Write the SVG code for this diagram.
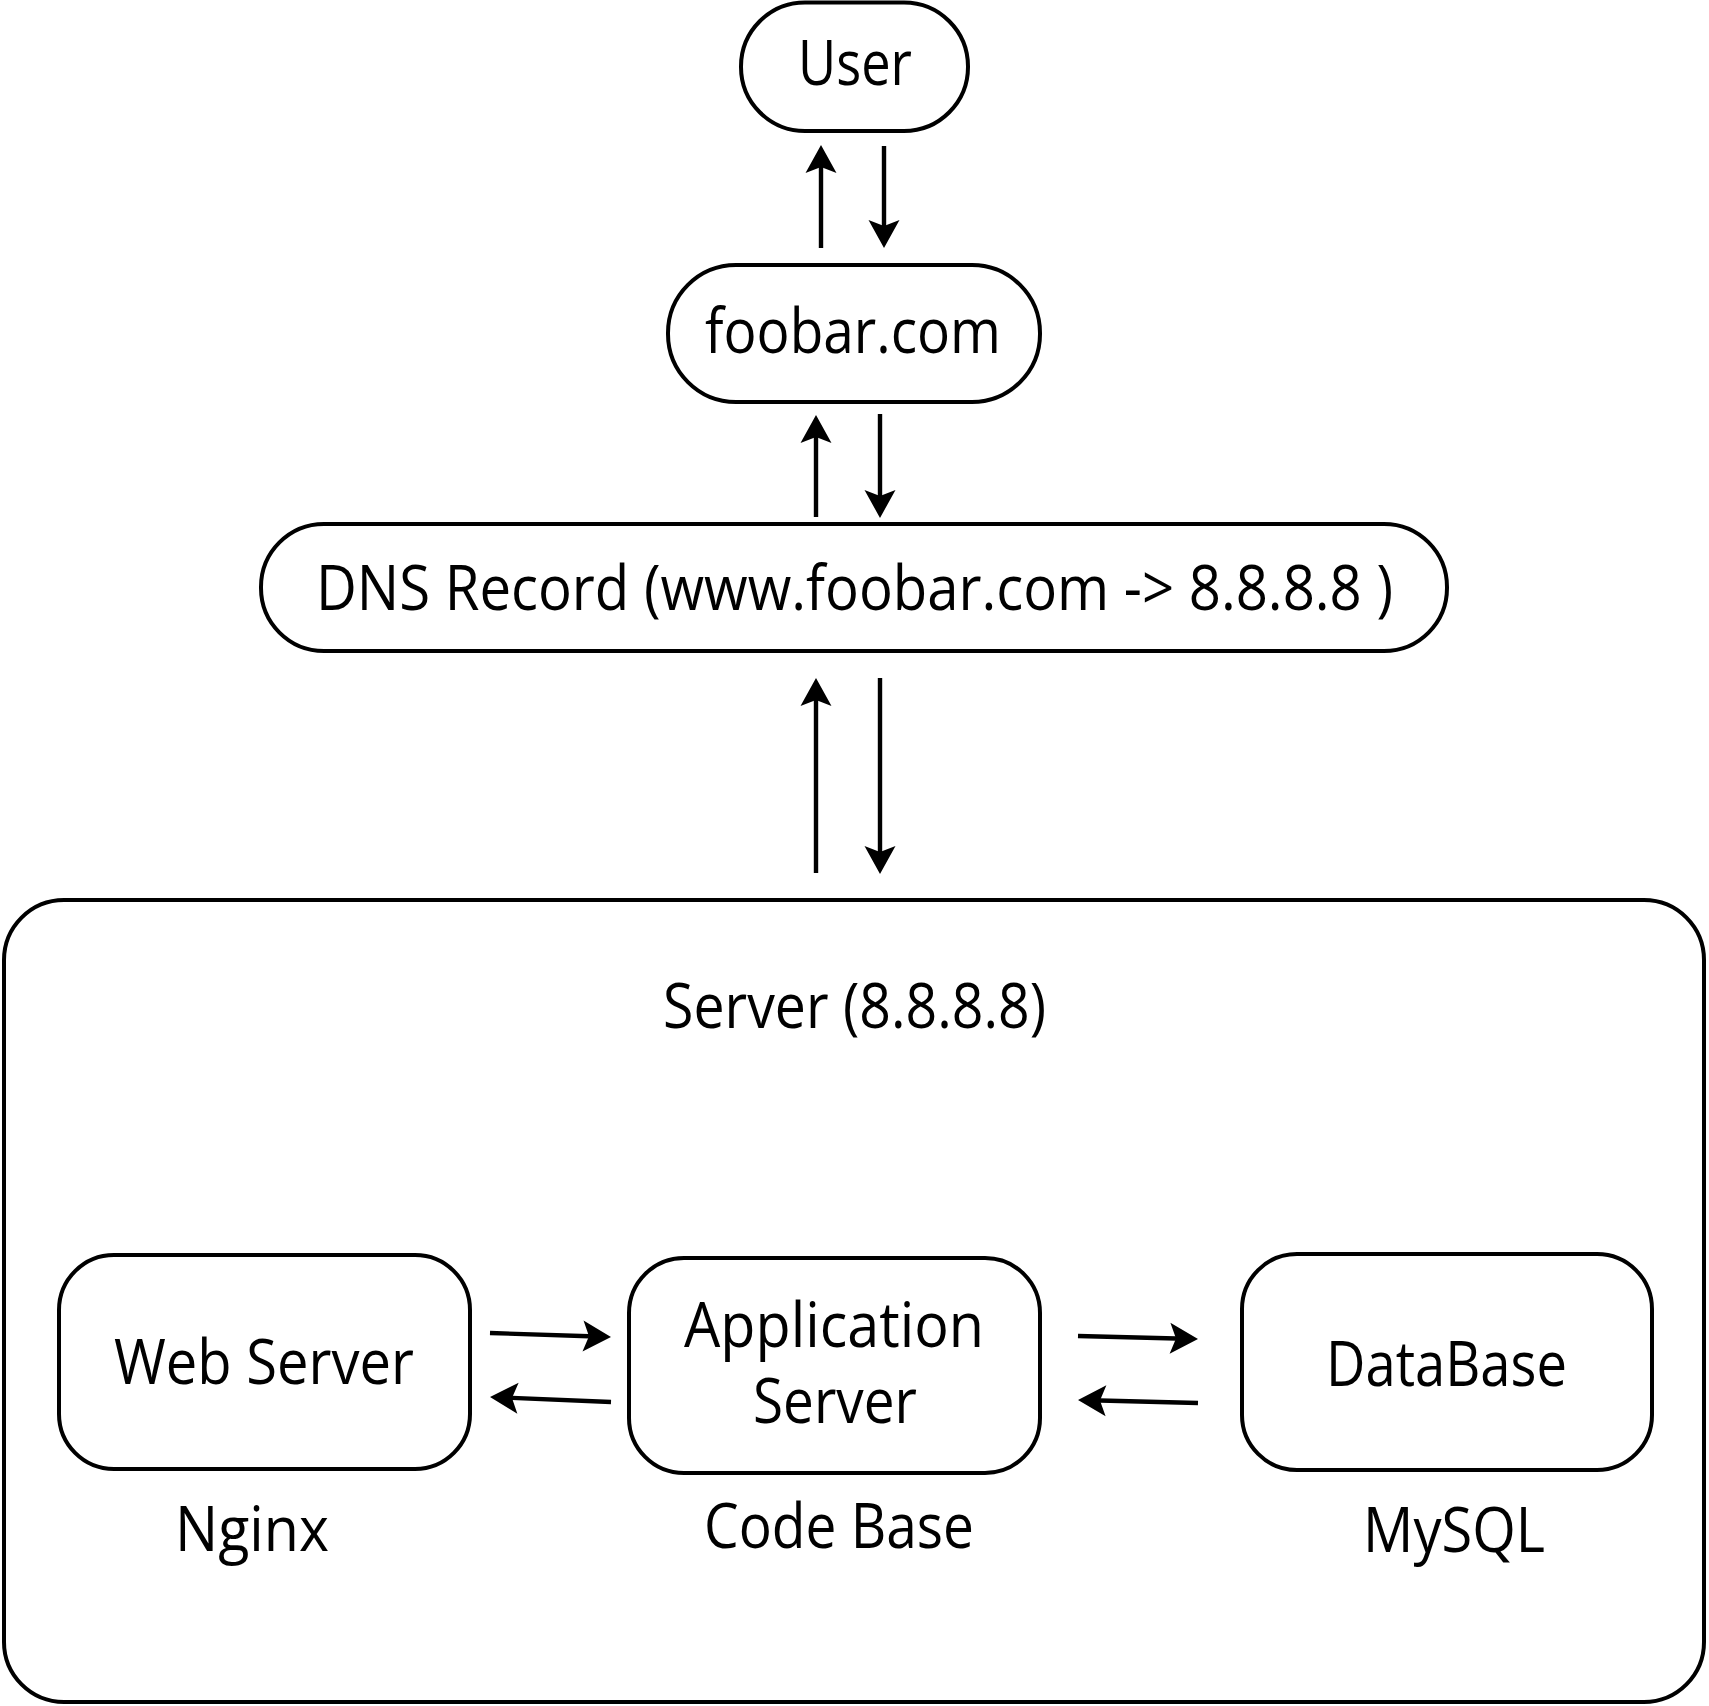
<svg xmlns="http://www.w3.org/2000/svg" width="1709" height="1706" viewBox="0 0 1709 1706">
<style>
.box{fill:#fff;stroke:#000;stroke-width:4}
.lbl{font-family:"Open Sans","Liberation Sans",sans-serif;font-size:62px;fill:#000}
.edge{stroke:#000;stroke-width:4.4;fill:none;marker-end:url(#ah)}
</style>
<defs>
<marker id="ah" markerUnits="userSpaceOnUse" viewBox="0 -17 30 34" markerWidth="30" markerHeight="34" refX="6" refY="0" orient="auto" overflow="visible">
<path d="M0,-15.5 L28,0 L0,15.5 L6,0 Z" fill="#000"/>
</marker>
</defs>
<rect width="1709" height="1706" fill="#fff"/>
<g id="server">
<rect class="box" x="4" y="900" width="1700" height="802" rx="60"/>
<text class="lbl" x="663" y="1028" textLength="383" lengthAdjust="spacingAndGlyphs">Server (8.8.8.8)</text>
</g>
<g id="user">
<rect class="box" x="741" y="2.5" width="227" height="128.5" rx="64"/>
<text class="lbl" x="798" y="85" textLength="114" lengthAdjust="spacingAndGlyphs">User</text>
</g>
<g id="foobar">
<rect class="box" x="668" y="265" width="372" height="137" rx="68"/>
<text class="lbl" x="705" y="353" textLength="296" lengthAdjust="spacingAndGlyphs">foobar.com</text>
</g>
<g id="dns">
<rect class="box" x="261" y="524" width="1186" height="127" rx="63"/>
<text class="lbl" x="316" y="610" textLength="1077" lengthAdjust="spacingAndGlyphs">DNS Record (www.foobar.com -&gt; 8.8.8.8 )</text>
</g>
<g id="webserver">
<rect class="box" x="59" y="1255" width="411" height="214" rx="55"/>
<text class="lbl" x="114" y="1384" textLength="300" lengthAdjust="spacingAndGlyphs">Web Server</text>
<text class="lbl" x="175" y="1551" textLength="154" lengthAdjust="spacingAndGlyphs">Nginx</text>
</g>
<g id="appserver">
<rect class="box" x="629" y="1258" width="411" height="215" rx="55"/>
<text class="lbl" x="684" y="1347" textLength="300" lengthAdjust="spacingAndGlyphs">Application</text>
<text class="lbl" x="753" y="1423" textLength="164" lengthAdjust="spacingAndGlyphs">Server</text>
<text class="lbl" x="704" y="1548" textLength="270" lengthAdjust="spacingAndGlyphs">Code Base</text>
</g>
<g id="database">
<rect class="box" x="1242" y="1254" width="410" height="216" rx="55"/>
<text class="lbl" x="1326" y="1386" textLength="241" lengthAdjust="spacingAndGlyphs">DataBase</text>
<text class="lbl" x="1363" y="1552" textLength="182" lengthAdjust="spacingAndGlyphs">MySQL</text>
</g>
<g id="connectors">
<line class="edge" x1="821" y1="248" x2="821" y2="167"/>
<line class="edge" x1="884" y1="146" x2="884" y2="226"/>
<line class="edge" x1="816" y1="517" x2="816" y2="437"/>
<line class="edge" x1="880" y1="414" x2="880" y2="496"/>
<line class="edge" x1="816" y1="873" x2="816" y2="700"/>
<line class="edge" x1="880" y1="678" x2="880" y2="852"/>
<line class="edge" x1="490" y1="1333" x2="589" y2="1336.3"/>
<line class="edge" x1="611" y1="1402" x2="512" y2="1397.9"/>
<line class="edge" x1="1078" y1="1336" x2="1176" y2="1338.5"/>
<line class="edge" x1="1198" y1="1403" x2="1100" y2="1400.5"/>
</g>
</svg>
